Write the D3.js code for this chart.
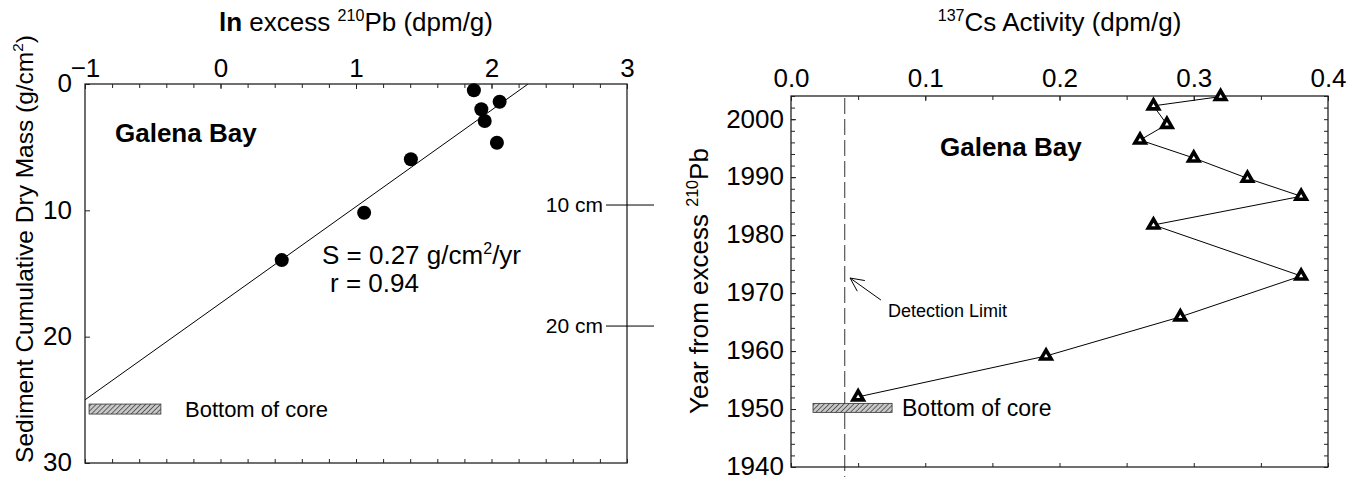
<!DOCTYPE html>
<html><head><meta charset="utf-8">
<script src="https://cdn.jsdelivr.net/npm/d3@7"></script>
<style>
body{margin:0;background:#fff;}
text{font-family:"Liberation Sans",Arial,Helvetica,sans-serif;fill:#000;}
</style></head><body>
<svg id="chart" width="1358" height="477"></svg>
<script>
// ---------- data: left panel (excess 210Pb) ----------
const pbLnExcess = [1.87, 2.06, 1.925, 1.95, 2.04, 1.405, 1.06, 0.452];
const pbMass     = [0.5, 1.4, 2.0, 2.93, 4.65, 5.96, 10.19, 13.94];
const fitLnExcess = [-1, 2.27];
const fitMass     = [25.0, 0];
const pbTickValues   = [-1, 0, 1, 2, 3];
const massTickValues = [0, 10, 20, 30];
const depthLabels = ["10 cm", "20 cm"];
const depthMass   = [9.58, 19.16];
const pbCoreBottomMass = 25.73;
const pbCoreBarX = [-0.97, -0.44];

// ---------- data: right panel (137Cs) ----------
const csActivity = [0.32, 0.27, 0.28, 0.26, 0.30, 0.34, 0.38, 0.27, 0.38, 0.29, 0.19, 0.05];
const csYear     = [2003.9, 2002.3, 1999.1, 1996.4, 1993.3, 1989.8, 1986.7, 1981.75, 1972.95, 1965.9, 1959.15, 1952.1];
const csTickValues   = [0, 0.1, 0.2, 0.3, 0.4];
const yearTickValues = [1940, 1950, 1960, 1970, 1980, 1990, 2000];
const detectionLimit = 0.04;
const csCoreBottomYear = 1950.2;
const csCoreBarX = [0.0164, 0.0753];
const arrowTip  = [0.044, 1972.6];
const arrowTail = [0.067, 1968.8];

// ---------- drawing ----------
const svg = d3.select("#chart");
const FS = 26;
const defs = svg.append("defs");
const pat = defs.append("pattern").attr("id","hatch").attr("patternUnits","userSpaceOnUse")
  .attr("width",3.5).attr("height",3.5).attr("patternTransform","rotate(45)");
pat.append("rect").attr("width",3.5).attr("height",3.5).attr("fill","#c8c8c8");
pat.append("line").attr("x1",0).attr("y1",0).attr("x2",0).attr("y2",3.5).attr("stroke","#333").attr("stroke-width",1.4);

function rich(sel, parts, size){
  let sup = false;
  parts.forEach(p=>{
    const t = sel.append("tspan").text(p.t);
    if (p.b) t.attr("font-weight","bold");
    if (p.sup && !sup){ t.attr("font-size", size*0.62).attr("dy", -size*0.4); sup = true; }
    else if (!p.sup && sup){ t.attr("dy", size*0.4); sup = false; }
  });
}

function frameAxes(g, x, y, xMajor, xMinorStep, yMajor, yMinorStep, fmtX, padX, padY){
  const [x0,x1] = x.range(), [yb,yt] = y.range();
  const xd = x.domain(), yd = y.domain();
  const xMinor = d3.range(Math.round((xd[1]-xd[0])/xMinorStep)+1).map(i=>xd[0]+i*xMinorStep);
  const yMinor = d3.range(Math.round((yd[1]-yd[0])/yMinorStep)+1).map(i=>yd[0]+i*yMinorStep);
  const tick = 4;
  g.append("g").attr("transform",`translate(0,${yt})`).call(d3.axisTop(x).tickValues(xMinor).tickSize(-tick).tickFormat("")).call(s=>s.select(".domain").remove());
  g.append("g").attr("transform",`translate(0,${yb})`).call(d3.axisBottom(x).tickValues(xMinor).tickSize(-tick).tickFormat("")).call(s=>s.select(".domain").remove());
  g.append("g").attr("transform",`translate(${x0},0)`).call(d3.axisLeft(y).tickValues(yMinor).tickSize(-tick).tickFormat("")).call(s=>s.select(".domain").remove());
  g.append("g").attr("transform",`translate(${x1},0)`).call(d3.axisRight(y).tickValues(yMinor).tickSize(-tick).tickFormat("")).call(s=>s.select(".domain").remove());
  const xa = g.append("g").attr("transform",`translate(0,${yt})`)
    .call(d3.axisTop(x).tickValues(xMajor).tickSize(-5).tickPadding(padX).tickFormat(fmtX));
  xa.select(".domain").remove();
  const ya = g.append("g").attr("transform",`translate(${x0},0)`)
    .call(d3.axisLeft(y).tickValues(yMajor).tickSize(-5).tickPadding(padY).tickFormat(d3.format("d")));
  ya.select(".domain").remove();
  ya.selectAll(".tick text").attr("dy","0.3em");
  g.selectAll(".tick line").attr("stroke","#222").attr("stroke-width",1);
  g.selectAll(".tick text").attr("font-size",FS).attr("font-family",'"Liberation Sans",Arial,sans-serif').attr("fill","#000");
  g.append("rect").attr("x",x0).attr("y",yt).attr("width",x1-x0).attr("height",yb-yt)
    .attr("fill","none").attr("stroke","#222").attr("stroke-width",1.3);
}

// ===== Left panel =====
const xL = d3.scaleLinear().domain([-1,3]).range([85,627]);
const yL = d3.scaleLinear().domain([30,0]).range([463,84]);
const gL = svg.append("g");

gL.append("line").attr("x1",xL(fitLnExcess[0])).attr("y1",yL(fitMass[0]))
  .attr("x2",xL(fitLnExcess[1])).attr("y2",yL(fitMass[1])).attr("stroke","#000").attr("stroke-width",1);

frameAxes(gL, xL, yL, pbTickValues, 0.2, massTickValues, 2, d3.format("d"), 7, 13);

gL.selectAll("circle.pb").data(pbLnExcess.map((v,i)=>[v,pbMass[i]])).enter().append("circle")
  .attr("cx",d=>xL(d[0])).attr("cy",d=>yL(d[1])).attr("r",7).attr("fill","#000");

rich(gL.append("text").attr("x",(xL.range()[0]+xL.range()[1])/2).attr("y",31).attr("text-anchor","middle").attr("font-size",FS),
  [{t:"ln",b:true},{t:" excess "},{t:"210",sup:true},{t:"Pb (dpm/g)"}], FS);
rich(gL.append("text").attr("transform","translate(33,249) rotate(-90)").attr("text-anchor","middle").attr("font-size",24.5),
  [{t:"Sediment Cumulative Dry Mass (g/cm"},{t:"2",sup:true},{t:")"}], 24.5);

gL.append("text").attr("x",115).attr("y",142).attr("font-size",FS).attr("font-weight","bold").text("Galena Bay");
rich(gL.append("text").attr("x",322).attr("y",264).attr("font-size",FS),
  [{t:"S = 0.27 g/cm"},{t:"2",sup:true},{t:"/yr"}], FS);
gL.append("text").attr("x",330).attr("y",292).attr("font-size",FS).text("r = 0.94");

depthLabels.forEach((lab,i)=>{
  const yy = yL(depthMass[i]);
  gL.append("line").attr("x1",606).attr("x2",654).attr("y1",yy).attr("y2",yy).attr("stroke","#000").attr("stroke-width",1);
  gL.append("text").attr("x",603).attr("y",yy+7).attr("text-anchor","end").attr("font-size",21).text(lab);
});

gL.append("rect").attr("x",xL(pbCoreBarX[0])).attr("width",xL(pbCoreBarX[1])-xL(pbCoreBarX[0]))
  .attr("y",yL(pbCoreBottomMass)-5).attr("height",10).attr("fill","url(#hatch)").attr("stroke","#333").attr("stroke-width",0.8);
gL.append("text").attr("x",185).attr("y",yL(pbCoreBottomMass)+8).attr("font-size",22).text("Bottom of core");

// ===== Right panel =====
const xR = d3.scaleLinear().domain([0,0.4]).range([791,1328]);
const yR = d3.scaleLinear().domain([1940,2004]).range([467,96]);
const gR = svg.append("g");

gR.append("line").attr("x1",xR(detectionLimit)).attr("x2",xR(detectionLimit))
  .attr("y1",yR.range()[1]+2).attr("y2",477).attr("stroke","#555").attr("stroke-width",1.2).attr("stroke-dasharray","16,5");

frameAxes(gR, xR, yR, csTickValues, 0.05, yearTickValues, 2, d3.format(".1f"), 9, 7);

gR.append("rect").attr("x",xR(csCoreBarX[0])).attr("width",xR(csCoreBarX[1])-xR(csCoreBarX[0]))
  .attr("y",yR(csCoreBottomYear)-4.5).attr("height",9).attr("fill","url(#hatch)").attr("stroke","#333").attr("stroke-width",0.8);
gR.append("text").attr("x",902).attr("y",yR(csCoreBottomYear)+8).attr("font-size",23).text("Bottom of core");

const csPts = csActivity.map((v,i)=>[v,csYear[i]]);
gR.append("path").attr("d",d3.line().x(d=>xR(d[0])).y(d=>yR(d[1]))(csPts))
  .attr("fill","none").attr("stroke","#000").attr("stroke-width",1);
gR.selectAll("path.tri").data(csPts).enter().append("path")
  .attr("d",d3.symbol(d3.symbolTriangle,46)())
  .attr("transform",d=>`translate(${xR(d[0])},${yR(d[1])})`)
  .attr("fill","#fff").attr("stroke","#000").attr("stroke-width",3.6).attr("stroke-linejoin","miter");

const tip = [xR(arrowTip[0]), yR(arrowTip[1])], tail = [xR(arrowTail[0]), yR(arrowTail[1])];
gR.append("line").attr("x1",tail[0]).attr("y1",tail[1]).attr("x2",tip[0]).attr("y2",tip[1]).attr("stroke","#000").attr("stroke-width",1);
const ang = Math.atan2(tail[1]-tip[1], tail[0]-tip[0]);
[-0.45,0.45].forEach(a=>{
  gR.append("line").attr("x1",tip[0]).attr("y1",tip[1])
    .attr("x2",tip[0]+15*Math.cos(ang+a)).attr("y2",tip[1]+15*Math.sin(ang+a))
    .attr("stroke","#000").attr("stroke-width",1);
});
gR.append("text").attr("x",888).attr("y",317).attr("font-size",18).text("Detection Limit");

rich(gR.append("text").attr("x",(xR.range()[0]+xR.range()[1])/2).attr("y",31).attr("text-anchor","middle").attr("font-size",FS),
  [{t:"137",sup:true},{t:"Cs Activity (dpm/g)"}], FS);
rich(gR.append("text").attr("transform","translate(708,281) rotate(-90)").attr("text-anchor","middle").attr("font-size",FS),
  [{t:"Year from excess "},{t:"210",sup:true},{t:"Pb"}], FS);
gR.append("text").attr("x",940).attr("y",156).attr("font-size",FS).attr("font-weight","bold").text("Galena Bay");
</script>
</body></html>
